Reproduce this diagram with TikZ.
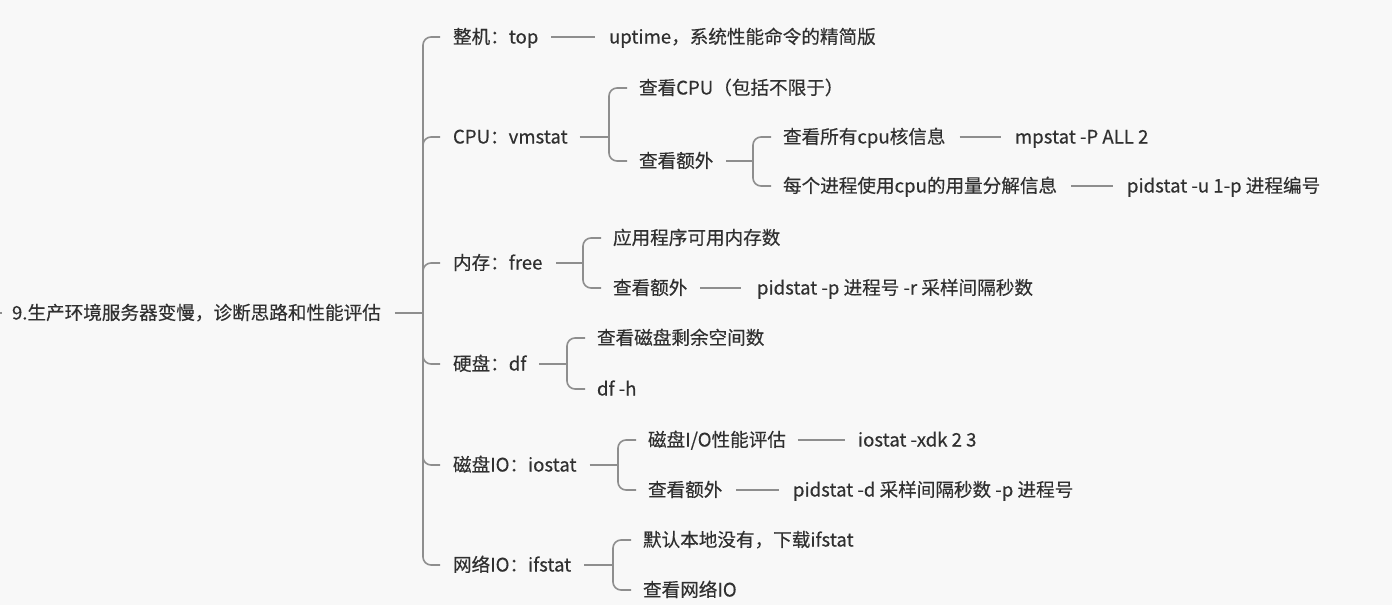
\documentclass[tikz,border=0pt]{standalone}
\usepackage{fontspec}
\setmainfont{Noto Sans CJK SC}[FakeBold=0.35]
\usetikzlibrary{calc}
\definecolor{bgc}{HTML}{F8F8F8}
\definecolor{txtc}{HTML}{303030}
\definecolor{linec}{HTML}{8E8E8E}
\begin{document}
\begin{tikzpicture}[x=1pt,y=-1pt,
  lbl/.style={anchor=west,inner sep=0pt,outer sep=0pt,text=txtc,
    font=\fontsize{18.6}{22}\selectfont,text height=15.5pt,text depth=2.5pt},
  conn/.style={draw=linec,line width=1.6pt,rounded corners=8pt}]
\fill[bgc] (0,0) rectangle (1392,605);
\useasboundingbox (0,0) rectangle (1392,605);
% nodes
\node[lbl] (root) at (12,313) {9.生产环境服务器变慢，诊断思路和性能评估};
\node[lbl] (a1) at (453,37) {整机：top};
\node[lbl] (a1x) at (609,37) {uptime，系统性能命令的精简版};
\node[lbl] (a2) at (453,137) {CPU：vmstat};
\node[lbl] (b21) at (639,88) {查看CPU（包括不限于）};
\node[lbl] (b22) at (639,161) {查看额外};
\node[lbl] (c221) at (783,137) {查看所有cpu核信息};
\node[lbl] (c221x) at (1015,137) {mpstat -P ALL 2};
\node[lbl] (c222) at (783,186) {每个进程使用cpu的用量分解信息};
\node[lbl] (c222x) at (1127,186) {pidstat -u 1-p 进程编号};
\node[lbl] (a3) at (453,263) {内存：free};
\node[lbl] (b31) at (613,238) {应用程序可用内存数};
\node[lbl] (b32) at (613,288) {查看额外};
\node[lbl] (b32x) at (757,288) {pidstat -p 进程号 -r 采样间隔秒数};
\node[lbl] (a4) at (453,364) {硬盘：df};
\node[lbl] (b41) at (597,338) {查看磁盘剩余空间数};
\node[lbl] (b42) at (597,389) {df -h};
\node[lbl] (a5) at (453,465) {磁盘IO：iostat};
\node[lbl] (b51) at (648,440) {磁盘I/O性能评估};
\node[lbl] (b51x) at (858,440) {iostat -xdk 2 3};
\node[lbl] (b52) at (648,490) {查看额外};
\node[lbl] (b52x) at (793,490) {pidstat -d 采样间隔秒数 -p 进程号};
\node[lbl] (a6) at (453,565) {网络IO：ifstat};
\node[lbl] (b61) at (643,540) {默认本地没有，下载ifstat};
\node[lbl] (b62) at (643,590) {查看网络IO};
% junction points
\coordinate (lead) at (-2,313);
\coordinate (j0) at ($(a1.west |- root.east)+(-30,0)$);
\coordinate (j2) at ($(b21.west |- a2.east)+(-30,0)$);
\coordinate (j22) at ($(c221.west |- b22.east)+(-30,0)$);
\coordinate (j3) at ($(b31.west |- a3.east)+(-30,0)$);
\coordinate (j4) at ($(b41.west |- a4.east)+(-30,0)$);
\coordinate (j5) at ($(b51.west |- a5.east)+(-30,0)$);
\coordinate (j6) at ($(b61.west |- a6.east)+(-30,0)$);
% connectors
\draw[conn] (lead) -- ([xshift=-10]root.west);
\draw[conn] ([xshift=14]root.east) -- (j0);
\foreach \c in {a1,a2,a3,a4,a5,a6}
  \draw[conn] (j0) |- ([xshift=-13]\c.west);
\draw[conn] ([xshift=13]a1.east) -- ([xshift=-14]a1x.west);
\draw[conn] ([xshift=12]a2.east) -- (j2);
\foreach \c in {b21,b22} \draw[conn] (j2) |- ([xshift=-12]\c.west);
\draw[conn] ([xshift=13]b22.east) -- (j22);
\foreach \c in {c221,c222} \draw[conn] (j22) |- ([xshift=-12]\c.west);
\draw[conn] ([xshift=14]c221.east) -- ([xshift=-14]c221x.west);
\draw[conn] ([xshift=14]c222.east) -- ([xshift=-14]c222x.west);
\draw[conn] ([xshift=14]a3.east) -- (j3);
\foreach \c in {b31,b32} \draw[conn] (j3) |- ([xshift=-12]\c.west);
\draw[conn] ([xshift=13]b32.east) -- ([xshift=-16]b32x.west);
\draw[conn] ([xshift=13]a4.east) -- (j4);
\foreach \c in {b41,b42} \draw[conn] (j4) |- ([xshift=-12]\c.west);
\draw[conn] ([xshift=13]a5.east) -- (j5);
\foreach \c in {b51,b52} \draw[conn] (j5) |- ([xshift=-12]\c.west);
\draw[conn] ([xshift=12]b51.east) -- ([xshift=-13]b51x.west);
\draw[conn] ([xshift=14]b52.east) -- ([xshift=-14]b52x.west);
\draw[conn] ([xshift=13]a6.east) -- (j6);
\foreach \c in {b61,b62} \draw[conn] (j6) |- ([xshift=-12]\c.west);
\end{tikzpicture}
\end{document}
